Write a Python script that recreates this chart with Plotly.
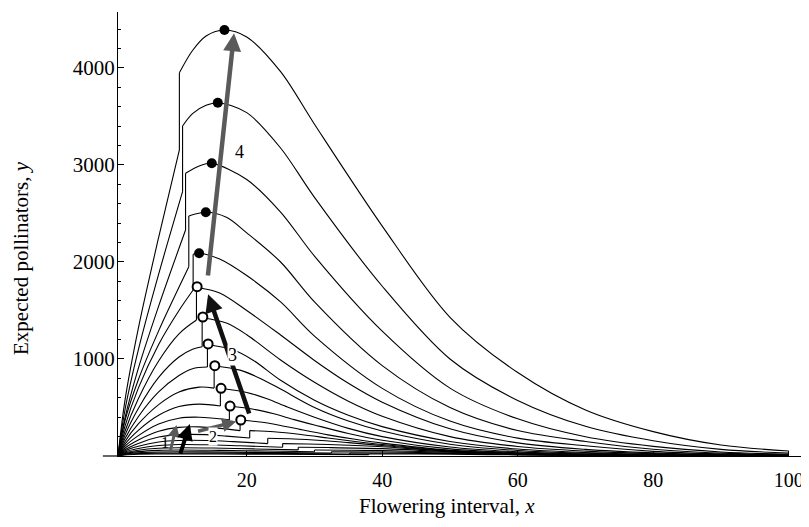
import plotly.graph_objects as go

# ---- curve data ----
# left (rising) branch of each curve, up to its jump
left_x = [
    [1, 2, 4, 7, 10.06],
    [1, 2, 4, 7, 10.53],
    [1, 2, 4, 7, 10.97],
    [1, 2, 4, 7, 11.45],
    [1, 2, 4, 7, 10, 12.09],
    [1, 2, 4, 7, 10, 12.58],
    [1, 2, 4, 7, 10, 12, 13.42],
    [1, 2, 4, 7, 10, 12, 14.2],
    [1, 2, 4, 7, 10, 13, 15.19],
    [1, 2, 4, 7, 10, 13, 16.11],
    [1, 2, 4, 7, 10, 13, 17.44],
    [1, 2, 4, 7, 10, 13, 16, 19.02],
    [1, 2, 4, 7, 10, 14, 17, 20.44],
    [1, 2, 4, 7, 10, 14, 18, 23.1],
    [1, 2, 4, 7, 10, 14, 19, 25.3],
    [1, 2, 4, 7, 10, 15, 21, 27.6],
    [1, 2, 4, 7, 10, 16, 23, 30],
    [1, 2, 4, 7, 10, 17, 25, 32.5],
    [1, 2, 4, 7, 10, 18, 27, 35.2],
    [1, 2, 4, 7, 10, 20, 30, 38],
]
left_y = [
    [0, 561, 1316, 2254, 3155],
    [0, 464, 1093, 1874, 2725],
    [0, 383, 903, 1545, 2330],
    [0, 356, 786, 1290, 1950],
    [0, 300, 700, 1150, 1500, 1711],
    [0, 250, 590, 980, 1260, 1402],
    [0, 210, 490, 810, 1020, 1100, 1127],
    [0, 175, 405, 660, 830, 900, 917],
    [0, 145, 330, 530, 660, 710, 700],
    [0, 120, 265, 420, 510, 535, 515],
    [0, 98, 210, 330, 390, 400, 372],
    [0, 80, 165, 255, 295, 300, 285, 262],
    [0, 64, 130, 195, 220, 220, 205, 185],
    [0, 52, 100, 145, 160, 160, 148, 128],
    [0, 42, 78, 108, 118, 116, 105, 90],
    [0, 33, 60, 80, 85, 82, 73, 63],
    [0, 26, 45, 58, 62, 58, 51, 44],
    [0, 20, 34, 42, 44, 40, 35, 30],
    [0, 15, 25, 30, 31, 28, 24, 21],
    [0, 11, 18, 21, 22, 19, 16, 14],
]
# right branch of each curve, from the top of its jump to x = 100
right_x = [
    [10.06, 12, 14, 16.71, 20, 25, 30, 40, 50, 60, 70, 80, 90, 100],
    [10.53, 12, 14, 15.73, 20, 25, 30, 40, 50, 60, 70, 80, 90, 100],
    [10.97, 13, 14.84, 20, 25, 30, 40, 50, 60, 70, 80, 90, 100],
    [11.45, 13.96, 17, 20, 25, 30, 40, 50, 60, 70, 80, 90, 100],
    [12.09, 12.97, 16, 20, 25, 30, 40, 50, 60, 70, 80, 90, 100],
    [12.58, 16, 20, 25, 30, 35, 40, 50, 60, 70, 80, 90, 100],
    [13.42, 17, 20, 25, 30, 35, 40, 50, 60, 70, 80, 90, 100],
    [14.2, 18, 21, 25, 30, 35, 40, 50, 60, 70, 80, 90, 100],
    [15.19, 19, 22, 25, 30, 35, 40, 50, 60, 70, 80, 90, 100],
    [16.11, 20, 23, 26, 30, 35, 40, 50, 60, 70, 80, 90, 100],
    [17.44, 21, 24, 27, 30, 35, 40, 50, 60, 70, 80, 90, 100],
    [19.02, 22, 25, 28, 32, 36, 40, 50, 60, 70, 80, 90, 100],
    [20.44, 24, 28, 32, 36, 40, 50, 60, 70, 80, 90, 100],
    [23.1, 27, 31, 35, 40, 50, 60, 70, 80, 90, 100],
    [25.3, 29, 33, 40, 50, 60, 70, 80, 90, 100],
    [27.6, 32, 40, 50, 60, 70, 80, 90, 100],
    [30, 35, 40, 50, 60, 70, 80, 90, 100],
    [32.5, 40, 50, 60, 70, 80, 90, 100],
    [35.2, 42, 50, 60, 70, 80, 90, 100],
    [38, 45, 50, 60, 70, 80, 90, 100],
]
right_y = [
    [3950, 4180, 4330, 4392, 4320, 3962, 3420, 2370, 1430, 860, 474, 251, 113, 52],
    [3402, 3530, 3615, 3642, 3540, 3175, 2666, 1750, 1000, 573, 306, 157, 68, 30],
    [2914, 2990, 3017, 2850, 2515, 2061, 1287, 700, 383, 198, 99, 42, 18],
    [2474, 2512, 2460, 2300, 2000, 1589, 932, 500, 262, 150, 70, 30, 12],
    [2080, 2090, 2030, 1860, 1588, 1236, 697, 360, 184, 105, 48, 21, 8],
    [1740, 1680, 1500, 1247, 985, 750, 555, 280, 135, 68, 32, 14, 6],
    [1425, 1370, 1250, 990, 760, 565, 410, 200, 98, 50, 24, 10, 4],
    [1150, 1095, 985, 780, 575, 420, 303, 150, 72, 36, 17, 7, 3],
    [931, 885, 800, 690, 500, 360, 258, 122, 57, 28, 13, 5.5, 2.2],
    [698, 655, 590, 505, 400, 285, 200, 93, 43, 21, 9.5, 4, 1.6],
    [515, 482, 435, 375, 320, 232, 162, 73, 33, 16, 7, 3, 1.2],
    [371, 350, 315, 272, 218, 172, 133, 60, 27, 12.5, 5.6, 2.4, 1],
    [262, 250, 222, 186, 150, 118, 55, 24, 11, 5, 2.1, 0.9],
    [183, 176, 160, 138, 108, 52, 22, 10, 4.6, 2, 0.8],
    [128, 124, 116, 95, 48, 21, 9.5, 4.3, 1.9, 0.8],
    [90, 87, 76, 44, 20, 9, 4, 1.8, 0.7],
    [62, 60, 55, 38, 18, 8.5, 3.8, 1.7, 0.7],
    [43, 41, 31, 16, 8, 3.6, 1.6, 0.6],
    [30, 29, 25, 14, 7.5, 3.4, 1.5, 0.6],
    [21, 20, 18, 12, 7, 3.2, 1.4, 0.6],
]

# optima markers
filled_x = [16.71, 15.73, 14.84, 13.96, 12.97]
filled_y = [4392, 3642, 3017, 2512, 2090]
open_x = [12.68, 13.52, 14.30, 15.29, 16.21, 17.54, 19.12]
open_y = [1745, 1433, 1155, 931, 698, 515, 371]

# evolutionary-path arrows (tail -> head)
arrow_tail_x = [14.25, 20.44, 12.59, 8.66, 10.13]
arrow_tail_y = [1845, 423, 251, 31, 10]
arrow_head_x = [18.13, 14.30, 18.45, 9.64, 11.60]
arrow_head_y = [4358, 1667, 356, 320, 330]
arrow_color = ["#5a5a5a", "#111111", "#5a5a5a", "#5a5a5a", "#000000"]
arrow_width = [4.5, 4.5, 3.5, 3, 4]

# path labels
label_text = ["1", "2", "3", "4"]
label_x = [7.99, 14.99, 17.94, 18.9]
label_y = [139, 196, 1041, 3129]

x_ticks = [20, 40, 60, 80, 100]
y_ticks = [1000, 2000, 3000, 4000]

FONT = "'Liberation Serif', 'Times New Roman', Times, serif"


def joined(xs_list, ys_list):
    X, Y = [], []
    for xs, ys in zip(xs_list, ys_list):
        X += list(xs) + [None]
        Y += list(ys) + [None]
    return X, Y


fig = go.Figure()

lx, ly = joined(left_x, left_y)
rx, ry = joined(right_x, right_y)
jx, jy = [], []
for a, b, c, d in zip(left_x, left_y, right_x, right_y):
    jx += [a[-1], c[0], None]
    jy += [b[-1], d[0], None]

line_style = dict(color="black", width=1.1)
fig.add_trace(go.Scatter(x=lx, y=ly, mode="lines", line=dict(shape="spline", smoothing=0.9, **line_style),
                         hoverinfo="skip", showlegend=False))
fig.add_trace(go.Scatter(x=jx, y=jy, mode="lines", line=line_style, hoverinfo="skip", showlegend=False))
fig.add_trace(go.Scatter(x=rx, y=ry, mode="lines", line=dict(shape="spline", smoothing=0.9, **line_style),
                         hoverinfo="skip", showlegend=False))

fig.add_trace(go.Scatter(x=filled_x, y=filled_y, mode="markers",
                         marker=dict(size=10, color="black"), showlegend=False))
fig.add_trace(go.Scatter(x=open_x, y=open_y, mode="markers",
                         marker=dict(size=9, color="white", line=dict(color="black", width=2)),
                         showlegend=False))

for tx, ty, hx, hy, col, w in zip(arrow_tail_x, arrow_tail_y, arrow_head_x, arrow_head_y,
                                  arrow_color, arrow_width):
    fig.add_annotation(x=hx, y=hy, ax=tx, ay=ty, xref="x", yref="y", axref="x", ayref="y",
                       text="", showarrow=True, arrowhead=2, arrowsize=0.8, arrowwidth=w,
                       arrowcolor=col, standoff=0, startstandoff=0)

for t, x, y in zip(label_text, label_x, label_y):
    fig.add_annotation(x=x, y=y, xref="x", yref="y", text=t, showarrow=False,
                       font=dict(family=FONT, size=18 if t in ("3", "4") else 16, color="black"),
                       bgcolor="white" if t in ("2", "3") else "rgba(0,0,0,0)", borderpad=0)

# axis titles
fig.add_annotation(x=0.479, y=-0.113, xref="paper", yref="paper", text="Flowering interval, <i>x</i>",
                   showarrow=False, xanchor="center", yanchor="middle",
                   font=dict(family=FONT, size=21, color="black"))
fig.add_annotation(x=-0.1412, y=0.446, xref="paper", yref="paper", text="Expected pollinators, <i>y</i>",
                   showarrow=False, xanchor="center", yanchor="middle", textangle=-90,
                   font=dict(family=FONT, size=21, color="black"))

# x-axis line extension to the left of the y axis
fig.add_shape(type="line", xref="paper", yref="paper", x0=-0.022, x1=0, y0=0, y1=0,
              line=dict(color="black", width=1.2))

fig.update_xaxes(range=[1, 102.4], showline=True, linecolor="black", linewidth=1.2,
                 ticks="inside", ticklen=5, tickcolor="black", tickvals=x_ticks,
                 ticktext=[str(v) for v in x_ticks], showgrid=False, zeroline=False,
                 automargin=False,
                 tickfont=dict(family=FONT, size=20, color="black"), ticklabelstandoff=6)
fig.update_yaxes(range=[0, 4577], showline=True, linecolor="black", linewidth=1.2,
                 ticks="inside", ticklen=6, tickcolor="black", tickvals=y_ticks,
                 ticktext=[str(v) for v in y_ticks], showgrid=False, zeroline=False,
                 automargin=False,
                 minor=dict(dtick=200, ticks="inside", ticklen=3, tickcolor="black", showgrid=False),
                 tickfont=dict(family=FONT, size=21, color="black"), ticklabelstandoff=-2)

# the page body adds an 8 px offset, so the figure is drawn 8 px smaller
fig.update_layout(width=801, height=519, margin=dict(l=110, r=4, t=4, b=71),
                  plot_bgcolor="white", paper_bgcolor="white", showlegend=False)

fig.write_html("out.html")
